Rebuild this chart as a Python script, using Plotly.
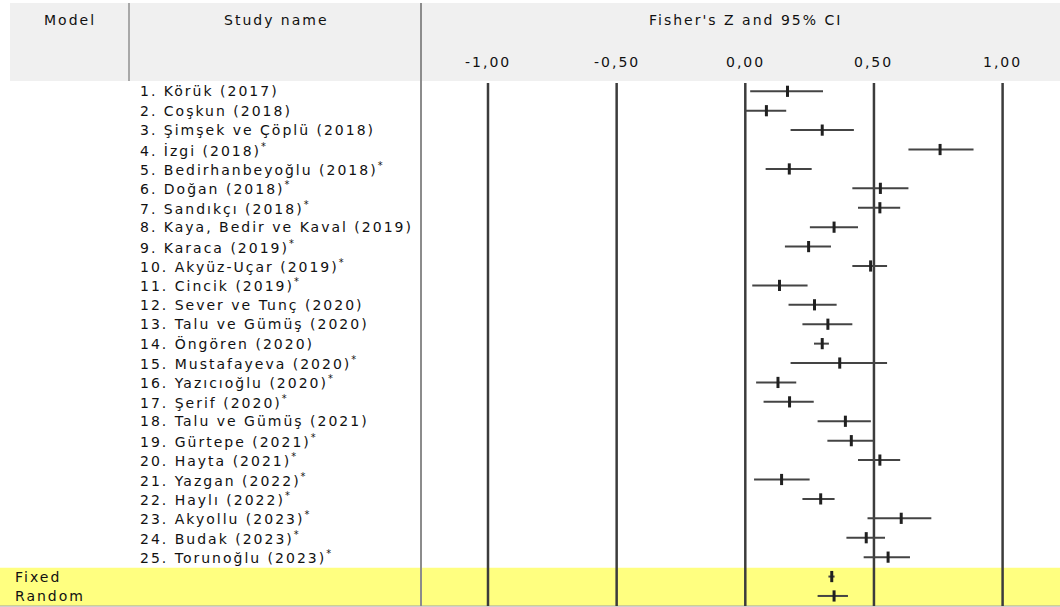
import plotly.graph_objects as go

# ---------------- data ----------------
studies = [
    "1. Körük (2017)", "2. Coşkun (2018)", "3. Şimşek ve Çöplü (2018)", "4. İzgi (2018)*",
    "5. Bedirhanbeyoğlu (2018)*", "6. Doğan (2018)*", "7. Sandıkçı (2018)*",
    "8. Kaya, Bedir ve Kaval (2019)", "9. Karaca (2019)*", "10. Akyüz-Uçar (2019)*",
    "11. Cincik (2019)*", "12. Sever ve Tunç (2020)", "13. Talu ve Gümüş (2020)",
    "14. Öngören (2020)", "15. Mustafayeva (2020)*", "16. Yazıcıoğlu (2020)*",
    "17. Şerif (2020)*", "18. Talu ve Gümüş (2021)", "19. Gürtepe (2021)*",
    "20. Hayta (2021)*", "21. Yazgan (2022)*", "22. Haylı (2022)*",
    "23. Akyollu (2023)*", "24. Budak (2023)*", "25. Torunoğlu (2023)*",
]
effect = [0.164, 0.082, 0.299, 0.757, 0.171, 0.525, 0.523, 0.345, 0.246, 0.487,
          0.133, 0.269, 0.321, 0.299, 0.367, 0.127, 0.172, 0.389, 0.412, 0.523,
          0.141, 0.293, 0.606, 0.470, 0.555]
lower = [0.019, 0.000, 0.176, 0.634, 0.079, 0.416, 0.438, 0.251, 0.154, 0.416,
         0.027, 0.168, 0.222, 0.267, 0.176, 0.042, 0.071, 0.281, 0.319, 0.438,
         0.034, 0.222, 0.475, 0.393, 0.460]
upper = [0.302, 0.159, 0.422, 0.887, 0.258, 0.634, 0.602, 0.438, 0.333, 0.551,
         0.242, 0.355, 0.416, 0.325, 0.551, 0.198, 0.266, 0.488, 0.500, 0.602,
         0.250, 0.347, 0.723, 0.543, 0.640]
models = ["Fixed", "Random"]
model_effect = [0.336, 0.345]
model_lower = [0.323, 0.281]
model_upper = [0.347, 0.399]
tick_values = [-1.0, -0.5, 0.0, 0.5, 1.0]
tick_labels = ["-1,00", "-0,50", "0,00", "0,50", "1,00"]
axis_title = "Fisher's Z and 95% CI"

# ---------------- layout geometry ----------------
W, H = 1060, 607
ZERO_PX, UNIT_PX = 745.3, 257.3
ROW1_PX, ROW_STEP = 91.3, 19.41
FONT = "DejaVu Sans"
FS = 14
TXT = "#111111"


def px_to_row(p):
    return 1 + (p - ROW1_PX) / ROW_STEP


def py(p):  # pixel from top -> paper y
    return 1 - p / H


def pxx(p):  # pixel from left -> paper x
    return p / W


n = len(studies)
rows = list(range(1, n + 1))
model_rows = [n + 1 + i for i in range(len(models))]

fig = go.Figure()

all_x = effect + model_effect
all_lo = lower + model_lower
all_hi = upper + model_upper
all_rows = rows + model_rows

fig.add_trace(go.Scatter(
    x=all_x, y=all_rows, mode="markers",
    marker=dict(symbol="line-ns", size=8, line=dict(width=3, color="#202020")),
    error_x=dict(type="data", symmetric=False,
                 array=[h - e for h, e in zip(all_hi, all_x)],
                 arrayminus=[e - l for e, l in zip(all_x, all_lo)],
                 thickness=2, width=0, color="#444444"),
    hoverinfo="skip", showlegend=False,
))

shapes = []
# header band
shapes.append(dict(type="rect", xref="paper", yref="paper", x0=pxx(10), x1=1,
                   y0=py(81), y1=py(3), fillcolor="#f0f0f0", line=dict(width=0), layer="below"))
# yellow summary band
shapes.append(dict(type="rect", xref="paper", yref="paper", x0=0, x1=1,
                   y0=py(606), y1=py(567.7), fillcolor="#ffff80", line=dict(width=0), layer="below"))
# bottom border
shapes.append(dict(type="line", xref="paper", yref="paper", x0=0, x1=1,
                   y0=py(606), y1=py(606), line=dict(color="#a0a0a0", width=1), layer="below"))
# header separator (Model | Study name)
shapes.append(dict(type="line", xref="paper", yref="paper", x0=pxx(129), x1=pxx(129),
                   y0=py(81), y1=py(3), line=dict(color="#a8a8a8", width=2), layer="below"))
# main separator
shapes.append(dict(type="line", xref="paper", yref="paper", x0=pxx(421), x1=pxx(421),
                   y0=py(606), y1=py(3), line=dict(color="#8c8c8c", width=2), layer="below"))
# vertical reference lines at ticks
for tv in tick_values:
    shapes.append(dict(type="line", xref="x", yref="paper", x0=tv, x1=tv,
                       y0=py(606), y1=py(83), line=dict(color="#3c3c3c", width=2.5), layer="below"))

annotations = []
font = dict(family=FONT, size=FS, color=TXT)
annotations.append(dict(text="Model", xref="paper", yref="paper", x=pxx(70), y=py(20),
                        xanchor="center", yanchor="middle", showarrow=False, font=font))
annotations.append(dict(text="Study name", xref="paper", yref="paper", x=pxx(276), y=py(20),
                        xanchor="center", yanchor="middle", showarrow=False, font=font))
annotations.append(dict(text=axis_title, xref="x", yref="paper", x=0, y=py(20),
                        xanchor="center", yanchor="middle", showarrow=False, font=font))
for tv, tl in zip(tick_values, tick_labels):
    annotations.append(dict(text=tl, xref="x", yref="paper", x=tv, y=py(62),
                            xanchor="center", yanchor="middle", showarrow=False, font=font))
for r, s in zip(rows, studies):
    label = s.replace("*", "<sup>*</sup>")
    annotations.append(dict(text=label, xref="paper", yref="y", x=pxx(138), y=r,
                            xanchor="left", yanchor="middle", align="left",
                            showarrow=False, font=font))
for r, m in zip(model_rows, models):
    annotations.append(dict(text=m, xref="paper", yref="y", x=pxx(13), y=r,
                            xanchor="left", yanchor="middle", align="left",
                            showarrow=False, font=font))

fig.update_layout(
    width=W, height=H,
    font=dict(family=FONT, size=FS, color=TXT),
    margin=dict(l=0, r=0, t=0, b=0),
    paper_bgcolor="white", plot_bgcolor="rgba(0,0,0,0)",
    xaxis=dict(range=[(0 - ZERO_PX) / UNIT_PX, (W - ZERO_PX) / UNIT_PX], visible=False,
               domain=[0, 1], fixedrange=True),
    yaxis=dict(range=[px_to_row(H), px_to_row(0)], visible=False,
               domain=[0, 1], fixedrange=True),
    shapes=shapes, annotations=annotations,
    showlegend=False,
)

post = """
document.body.style.margin = '0';
document.body.style.overflow = 'hidden';
document.querySelectorAll('.annotation-text').forEach(function (e) {
    e.style.letterSpacing = '2px';
});
"""

fig.write_html("out.html", config={"displayModeBar": False}, post_script=post)
